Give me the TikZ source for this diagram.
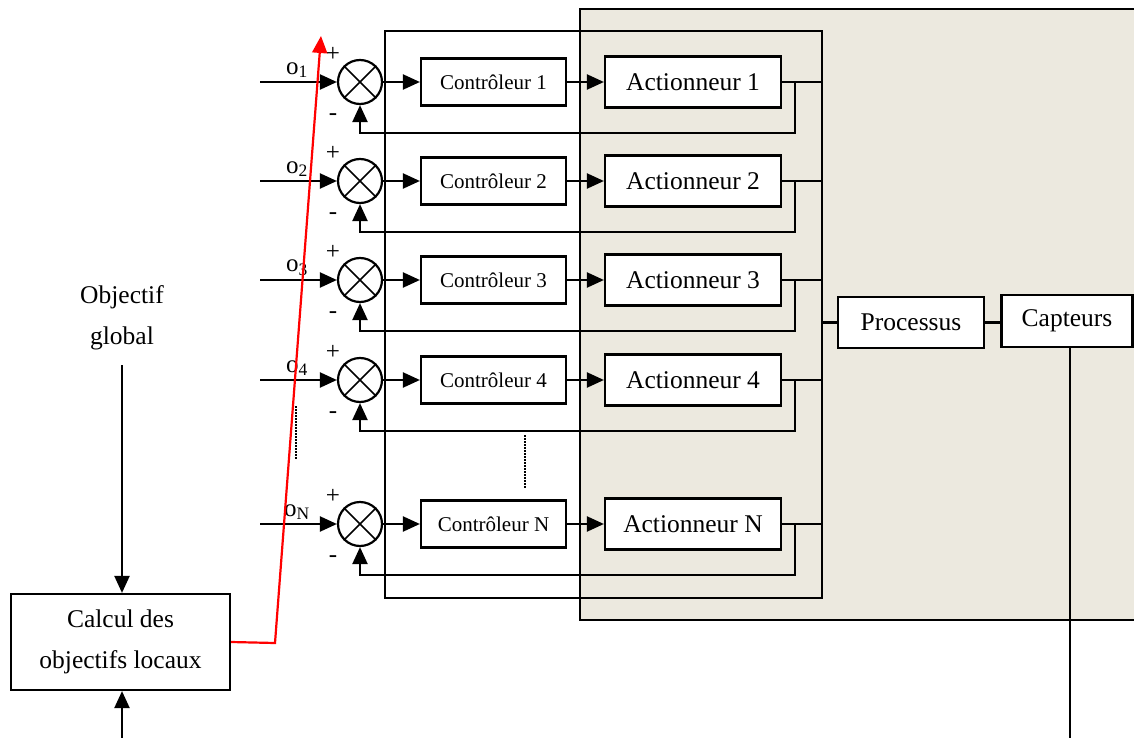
\documentclass[tikz,border=0pt]{standalone}
\usepackage{fontspec}
\setmainfont{Liberation Serif}
\usetikzlibrary{arrows.meta,calc}
\definecolor{bgbeige}{RGB}{236,233,223}
\begin{document}
\begin{tikzpicture}[x=1pt,y=-1pt,
  line width=2.2pt,
  arr/.style={-{Triangle[length=17pt,width=15pt]}},
  box/.style={draw,fill=white,rectangle,inner sep=0pt},
  ctrlbox/.style={box,minimum width=145pt,minimum height=47pt,font=\fontsize{21}{25}\selectfont},
  actbox/.style={box,minimum width=176pt,minimum height=51pt,font=\fontsize{25.5}{30}\selectfont},
  bigbox/.style={box,font=\fontsize{25.5}{30}\selectfont},
  sumnode/.style={draw,circle,minimum size=44pt,inner sep=0pt},
  lbl/.style={font=\fontsize{25}{30}\selectfont,inner sep=0pt},
  dots/.style={line width=1.5pt,dash pattern=on 1.5pt off 1.5pt},
]
\useasboundingbox (0,0) rectangle (1134,738);
\fill[bgbeige] (580,9) rectangle (1150,620);
\draw[line width=2.5pt] (1150,9) -- (580,9) -- (580,620) -- (1150,620);
\node[draw,minimum width=437pt,minimum height=567pt,inner sep=0pt] (grp) at (603.5,314.5) {};
\foreach \i/\y/\lab in {1/82/1,2/181/2,3/280/3,4/380/4,5/524/N}{
  \node[sumnode] (s\i) at (360,\y) {};
  \draw[line width=1.6pt] (s\i.north east) -- (s\i.south west) (s\i.north west) -- (s\i.south east);
  \node[ctrlbox] (c\i) at (493.5,\y) {Contrôleur \lab};
  \node[actbox] (a\i) at (693,\y) {Actionneur \lab};
  \coordinate (in\i) at (260,\y);
  \coordinate (f\i) at (795,{\y+51});
  \draw[arr] (in\i) -- (s\i.west);
  \draw[arr] (s\i.east) -- (c\i.west);
  \draw[arr] (c\i.east) -- (a\i.west);
  \draw (a\i.east) -- (a\i.east -| grp.east);
  \draw[arr] (a\i.east -| f\i) -- (f\i) -| (s\i.south);
  \node[lbl] (o\i) at (297,{\y-12}) {o\textsubscript{\lab}};
  \node[lbl] (p\i) at (333,{\y-28}) {+};
  \node[lbl] (m\i) at (333,{\y+35}) {-};
}
\draw[dots] (296,406) -- (296,460);
\draw[dots] (525,435) -- (525,489);
\node[bigbox,minimum width=146pt,minimum height=51pt] (proc) at (911,322.5) {Processus};
\node[bigbox,minimum width=131pt,minimum height=52pt] (capt) at (1067,321) {Capteurs};
\draw (grp.east |- proc.west) -- (proc.west);
\draw (proc.east) -- (proc.east -| capt.west);
\coordinate (cend) at (1070,745);
\draw (capt.south -| cend) -- (cend);
\node[lbl,align=center,font=\fontsize{25.5}{41}\selectfont] (obj) at (122,317.5) {Objectif\\global};
\node[bigbox,minimum width=219pt,minimum height=96pt,align=center,font=\fontsize{25.5}{41}\selectfont] (calc) at (120.5,642) {Calcul des\\objectifs locaux};
\coordinate (ob) at (122,365);
\coordinate (bin) at (122,745);
\draw[arr] (ob) -- (calc.north -| ob);
\draw[arr] (bin) -- (calc.south -| bin);
\coordinate (rk) at (275,643);
\coordinate (rt) at (321,36);
\draw[red,arr] (calc.east) -- (rk) -- (rt);
\end{tikzpicture}
\end{document}
